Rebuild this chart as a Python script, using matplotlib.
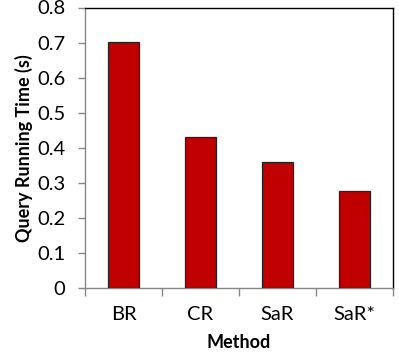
import matplotlib
matplotlib.use("Agg")
import matplotlib.pyplot as plt
import numpy as np

methods = ["BR", "CR", "SaR", "SaR*"]
running_time = [0.703, 0.430, 0.360, 0.277]
yticks = [0, 0.1, 0.2, 0.3, 0.4, 0.5, 0.6, 0.7, 0.8]

plt.rcParams['font.family'] = ['Lato', 'DejaVu Sans']

fig = plt.figure(figsize=(3.99, 3.62), dpi=100)
ax = fig.add_axes([85 / 399, 1 - 288 / 362, 308 / 399, 280.5 / 362])

x = np.arange(len(methods))
ax.bar(x, running_time, width=0.4, color='#C00000', edgecolor='#222222', linewidth=0.9, zorder=3)

ax.set_xlim(-0.5, len(methods) - 0.5)
ax.set_ylim(0, 0.8)
ax.set_yticks(yticks)
ax.set_yticklabels(["0" if v == 0 else f"{v:.1f}" for v in yticks], fontsize=14.5)

# category labels centred, tick marks between categories
ax.set_xticks(x)
ax.set_xticklabels(methods, fontsize=14.5)
ax.tick_params(axis='x', length=0, pad=13)
ax.set_xticks(np.arange(-0.5, len(methods)), minor=True)
ax.tick_params(axis='x', which='minor', length=6, color='#868686', width=1)
ax.tick_params(axis='y', length=5, color='#868686', width=1, pad=9)

for side in ['left', 'bottom']:
    ax.spines[side].set_color('#868686')
    ax.spines[side].set_linewidth(1)
for side in ['top', 'right']:
    ax.spines[side].set_color('#000000')
    ax.spines[side].set_linewidth(1)

ax.set_xlabel("Method", fontsize=13, fontweight='bold', labelpad=8)
ax.set_ylabel("Query Running Time (s)", fontsize=13, fontweight='bold', labelpad=3)

fig.savefig("out.png", dpi=100)
